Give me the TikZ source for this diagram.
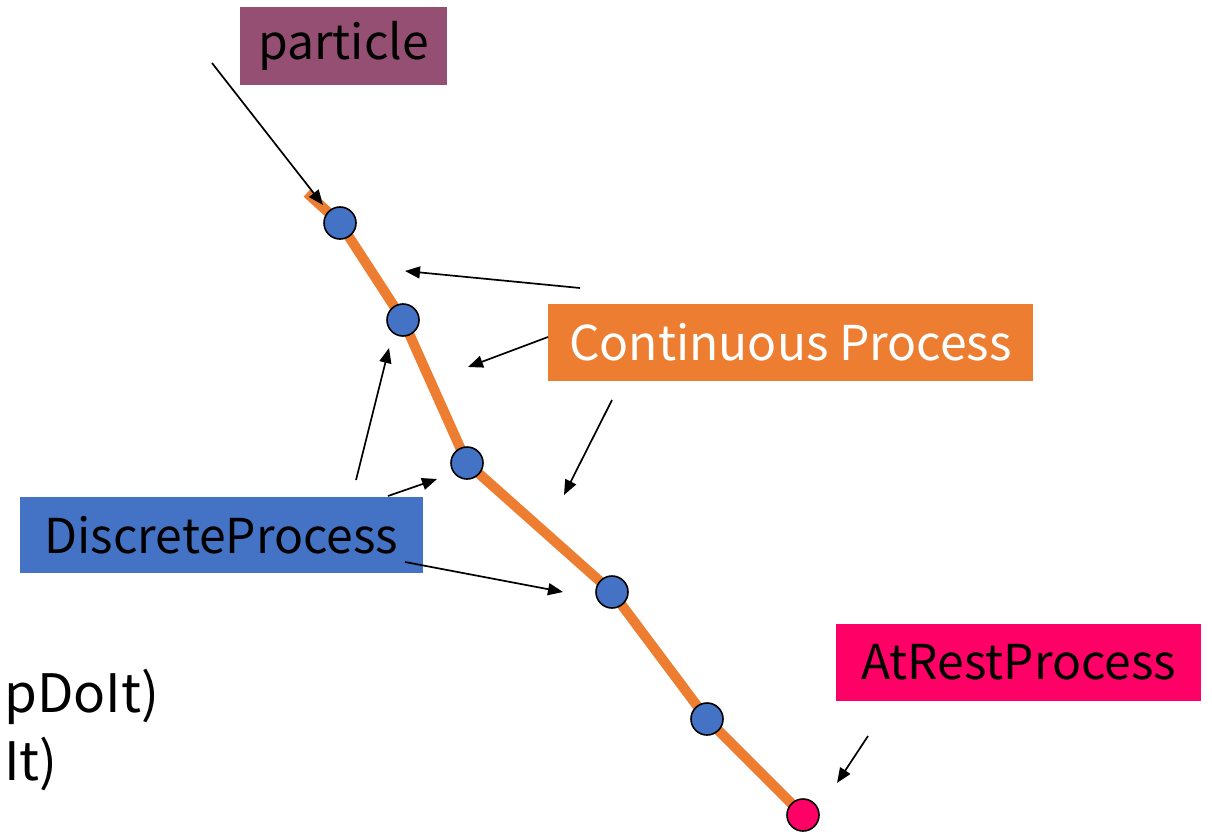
\documentclass[tikz,border=0pt]{standalone}
\usepackage{fontspec}
\setmainfont{Noto Sans CJK JP}
\usetikzlibrary{arrows.meta}
\definecolor{plum}{HTML}{954F72}
\definecolor{tangerine}{HTML}{ED7D31}
\definecolor{steel}{HTML}{4472C4}
\definecolor{rose}{HTML}{FF0066}
\tikzset{
  tag/.style={fill=#1, inner sep=0pt, anchor=center},
  bigtext/.style={font=\fontsize{48}{52}\selectfont},
  sidetext/.style={font=\fontsize{53}{57}\selectfont},
  track/.style={draw=tangerine, line width=10pt, line join=round},
  dot/.style={circle, draw=black, line width=1.6pt, fill=#1, minimum size=32pt, inner sep=0pt},
  pointer/.style={draw=black, line width=1.7pt, -{Triangle[length=15pt,width=12pt]}}
}
\begin{document}
\begin{tikzpicture}[x=1pt,y=-1pt]
\useasboundingbox (0,0) rectangle (1212,832);

% labels
\node[tag=plum, minimum width=207pt, minimum height=78pt, bigtext] (lparticle) at (343.5,46) {particle};
\node[tag=tangerine, minimum width=485pt, minimum height=77pt, bigtext, text=white] (lcont) at (790.5,342.5) {Continuous Process};
\node[tag=steel, minimum width=403pt, minimum height=76pt, bigtext] (ldisc) at (221.5,535) {DiscreteProcess};
\node[tag=rose, minimum width=365pt, minimum height=77pt, bigtext] (lrest) at (1018.5,662.5) {AtRestProcess};

% step-method names near the left edge
\node[anchor=base west, inner sep=0pt, sidetext] (along) at (4,712) {pDoIt)};
\node[anchor=base west, inner sep=0pt, sidetext] (post) at (4,780) {It)};

% particle track
\coordinate (s0) at (307,193);
\coordinate (s1) at (340,223);
\coordinate (s2) at (403,320);
\coordinate (s3) at (467,463);
\coordinate (s4) at (612,592);
\coordinate (s5) at (707,719);
\coordinate (s6) at (803,815);
\draw[track] (s0) -- (s1) -- (s2) -- (s3) -- (s4) -- (s5) -- (s6);

% pointer ends
\coordinate (p1a) at (212,63);   \coordinate (p1b) at (323,205);
\coordinate (c1a) at (580,288);  \coordinate (c1b) at (405,271);
\coordinate (c2a) at (548,337);  \coordinate (c2b) at (468,367);
\coordinate (c3a) at (612,400);  \coordinate (c3b) at (564,495);
\coordinate (d1a) at (356,480);  \coordinate (d1b) at (389,348);
\coordinate (d2a) at (388,496);  \coordinate (d2b) at (437,479);
\coordinate (d3a) at (405,562);  \coordinate (d3b) at (563,592);
\coordinate (r1a) at (868,736);  \coordinate (r1b) at (837,783);

\draw[pointer] (p1a) -- (p1b);
\draw[pointer] (c1a) -- (c1b);
\draw[pointer] (c2a) -- (c2b);
\draw[pointer] (c3a) -- (c3b);
\draw[pointer] (d1a) -- (d1b);
\draw[pointer] (d2a) -- (d2b);
\draw[pointer] (d3a) -- (d3b);
\draw[pointer] (r1a) -- (r1b);

% step points
\node[dot=steel] (n1) at (s1) {};
\node[dot=steel] (n2) at (s2) {};
\node[dot=steel] (n3) at (s3) {};
\node[dot=steel] (n4) at (s4) {};
\node[dot=steel] (n5) at (s5) {};
\node[dot=rose] (n6) at (s6) {};
\end{tikzpicture}
\end{document}
